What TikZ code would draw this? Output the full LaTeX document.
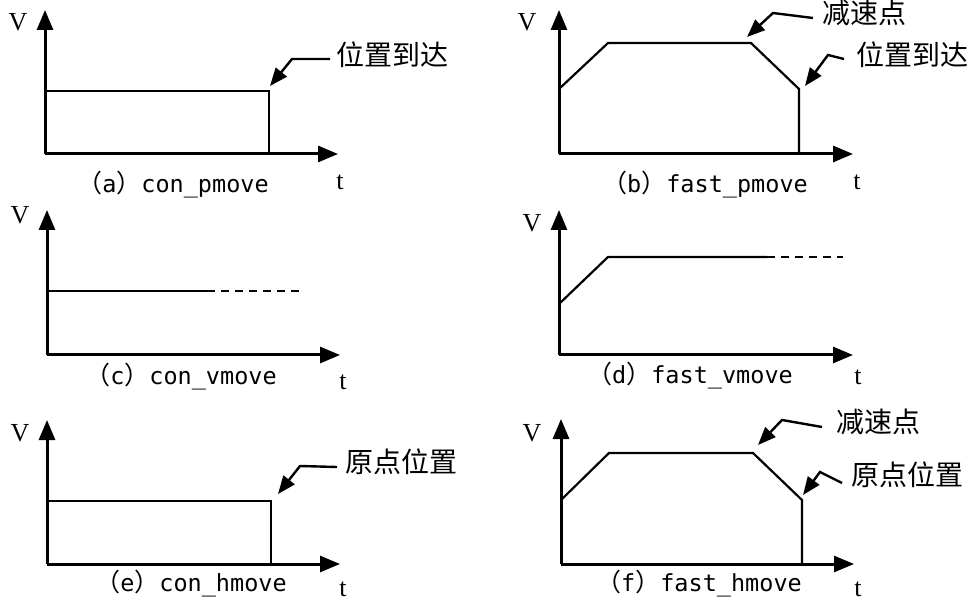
\documentclass[tikz,border=0pt]{standalone}
\usepackage{fontspec}
\setmainfont{Liberation Serif}
\newfontfamily\cjk{Noto Sans CJK SC}
\newfontfamily\monof{DejaVu Sans Mono}
\usetikzlibrary{arrows.meta}
\tikzset{
  axis/.style={line width=3pt,-{Triangle[length=20pt,width=16pt]}},
  curve/.style={line width=2.2pt,line join=miter},
  dashcurve/.style={line width=2.2pt,dash pattern=on 8pt off 6pt},
  lead/.style={line width=2.4pt,-{Triangle[length=18pt,width=14pt]}},
  vlab/.style={inner sep=0pt,font=\fontsize{26}{26}\selectfont},
  note/.style={inner sep=0pt,anchor=west,font=\cjk\fontsize{28}{28}\selectfont},
  capbox/.style={inner sep=0pt,font=\monof\fontsize{23.5}{23.5}\selectfont},
}
\newcommand{\capt}[2]{{\cjk\fontsize{25}{25}\selectfont（}#1{\cjk\fontsize{25}{25}\selectfont）}#2}
\begin{document}
\begin{tikzpicture}[x=1pt,y=-1pt]
\useasboundingbox (0,0) rectangle (969,601);
% ---------- (a)
\coordinate (ao) at (45,154);
\coordinate (ay) at (45,10);
\coordinate (ax) at (338,154);
\draw[axis] (ao) -- (ay);
\draw[axis] (ao) -- (ax);
\coordinate (a1) at (45,91);
\coordinate (a2) at (269,91);
\coordinate (a3) at (269,154);
\draw[curve] (a1) -- (a2) -- (a3);
\node[vlab] (aV) at (18,22) {V};
\node[vlab] (at) at (340,182) {t};
\node[capbox] (acap) at (173,185) {\capt{a}{con\_pmove}};
\node[note] (anote) at (336,55) {位置到达};
\coordinate (ak) at (292,59);
\coordinate (atip) at (270,86);
\draw[lead] ([xshift=-6pt,yshift=-4pt]anote.west) -- (ak) -- (atip);
% ---------- (b)
\coordinate (bo) at (559,154);
\coordinate (by) at (559,10);
\coordinate (bx) at (853,154);
\draw[axis] (bo) -- (by);
\draw[axis] (bo) -- (bx);
\coordinate (b1) at (559,89);
\coordinate (b2) at (608,43);
\coordinate (b3) at (751,43);
\coordinate (b4) at (799,89);
\coordinate (b5) at (799,154);
\draw[curve] (b1) -- (b2) -- (b3) -- (b4) -- (b5);
\node[vlab] (bV) at (527,22) {V};
\node[vlab] (bt) at (857,182) {t};
\node[capbox] (bcap) at (705,185) {\capt{b}{fast\_pmove}};
\node[note] (bnote1) at (822,13) {减速点};
\coordinate (bk1) at (773,13);
\coordinate (btip1) at (747,37);
\draw[lead] ([xshift=-9pt,yshift=-5pt]bnote1.west) -- (bk1) -- (btip1);
\node[note] (bnote2) at (856,55) {位置到达};
\coordinate (bk2) at (828,55);
\coordinate (btip2) at (805,86);
\draw[lead] ([xshift=-12pt,yshift=-4pt]bnote2.west) -- (bk2) -- (btip2);
% ---------- (c)
\coordinate (co) at (47,355);
\coordinate (cy) at (47,210);
\coordinate (cx) at (340,355);
\draw[axis] (co) -- (cy);
\draw[axis] (co) -- (cx);
\coordinate (c1) at (47,291);
\coordinate (c2) at (207,291);
\coordinate (c3) at (300,291);
\draw[curve] (c1) -- (c2);
\draw[dashcurve] (c2) -- (c3);
\node[vlab] (cV) at (20,215) {V};
\node[vlab] (ct) at (343,382) {t};
\node[capbox] (ccap) at (181,377) {\capt{c}{con\_vmove}};
% ---------- (d)
\coordinate (do) at (559,355);
\coordinate (dy) at (559,210);
\coordinate (dx) at (853,355);
\draw[axis] (do) -- (dy);
\draw[axis] (do) -- (dx);
\coordinate (d1) at (559,304);
\coordinate (d2) at (608,257);
\coordinate (d3) at (767,257);
\coordinate (d4) at (843,257);
\draw[curve] (d1) -- (d2) -- (d3);
\draw[dashcurve] (d3) -- (d4);
\node[vlab] (dV) at (532,223) {V};
\node[vlab] (dt) at (858,377) {t};
\node[capbox] (dcap) at (690,376) {\capt{d}{fast\_vmove}};
% ---------- (e)
\coordinate (eo) at (47,564);
\coordinate (ey) at (47,420);
\coordinate (ex) at (340,564);
\draw[axis] (eo) -- (ey);
\draw[axis] (eo) -- (ex);
\coordinate (e1) at (47,501);
\coordinate (e2) at (271,501);
\coordinate (e3) at (271,564);
\draw[curve] (e1) -- (e2) -- (e3);
\node[vlab] (eV) at (20,433) {V};
\node[vlab] (et) at (343,589) {t};
\node[capbox] (ecap) at (191,584) {\capt{e}{con\_hmove}};
\node[note] (enote) at (345,462) {原点位置};
\coordinate (ek) at (300,466);
\coordinate (etip) at (278,494);
\draw[lead] ([xshift=-8pt,yshift=-5pt]enote.west) -- (ek) -- (etip);
% ---------- (f)
\coordinate (fo) at (561,564);
\coordinate (fy) at (561,419);
\coordinate (fx) at (854,564);
\draw[axis] (fo) -- (fy);
\draw[axis] (fo) -- (fx);
\coordinate (f1) at (561,500);
\coordinate (f2) at (609,453);
\coordinate (f3) at (753,453);
\coordinate (f4) at (802,500);
\coordinate (f5) at (802,564);
\draw[curve] (f1) -- (f2) -- (f3) -- (f4) -- (f5);
\node[vlab] (fV) at (532,433) {V};
\node[vlab] (ft) at (858,589) {t};
\node[capbox] (fcap) at (699,584) {\capt{f}{fast\_hmove}};
\node[note] (fnote1) at (836,422) {减速点};
\coordinate (fk1) at (782,420);
\coordinate (ftip1) at (758,445);
\draw[lead] ([xshift=-14pt,yshift=-5pt]fnote1.west) -- (fk1) -- (ftip1);
\node[note] (fnote2) at (851,475) {原点位置};
\coordinate (fk2) at (820,472);
\coordinate (ftip2) at (803,495);
\draw[lead] ([xshift=-9pt,yshift=-8pt]fnote2.west) -- (fk2) -- (ftip2);
\end{tikzpicture}
\end{document}
